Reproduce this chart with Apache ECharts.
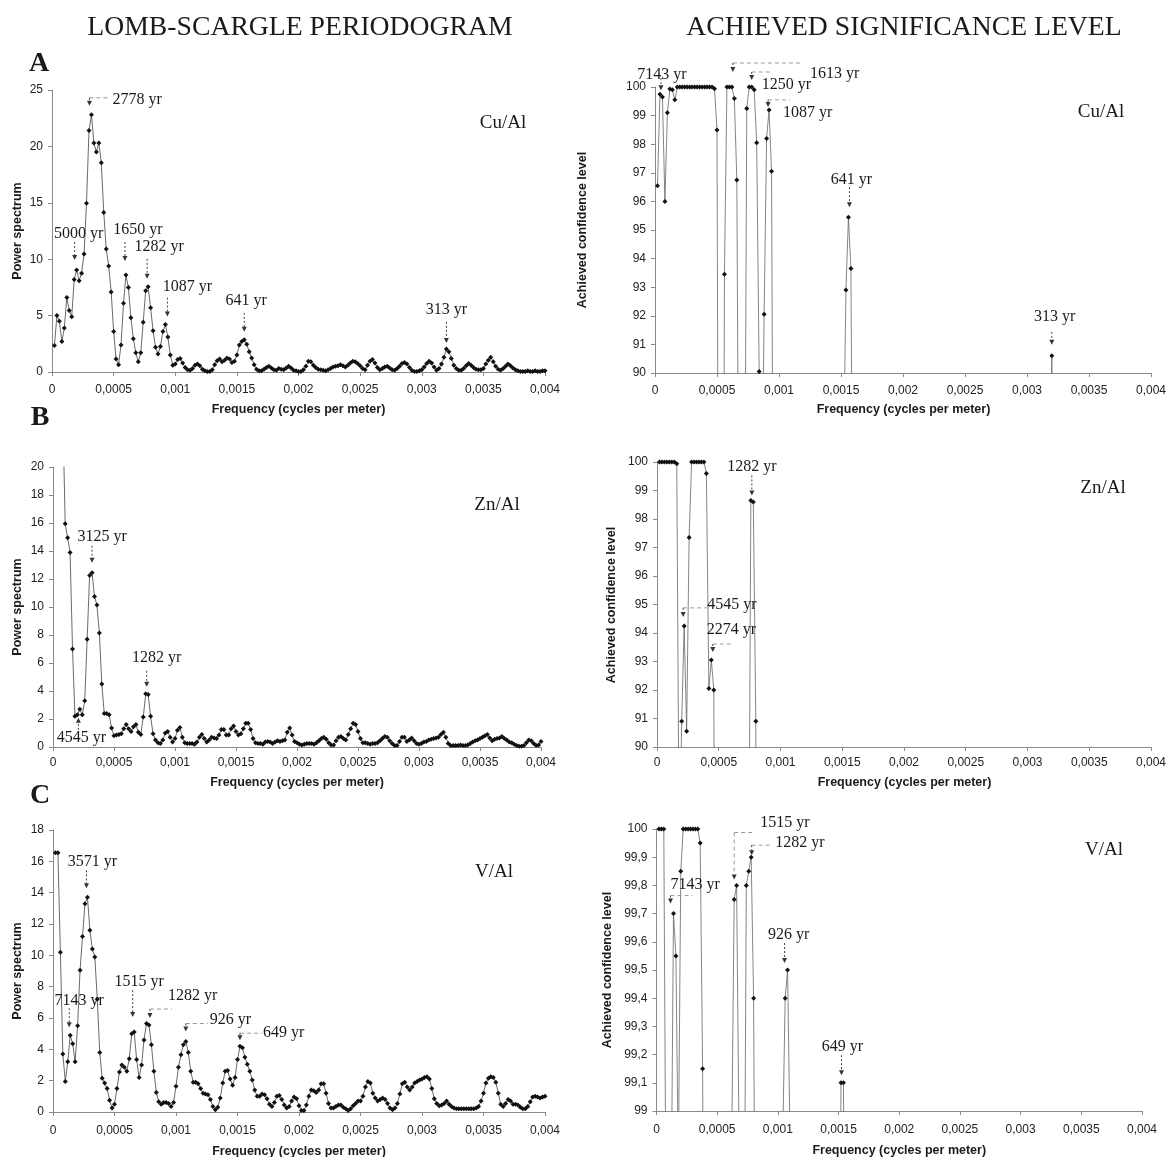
<!DOCTYPE html>
<html>
<head>
<meta charset="utf-8">
<script src="https://cdn.jsdelivr.net/npm/echarts@6/dist/echarts.min.js"></script>
<style>
  html, body { margin: 0; padding: 0; background: #ffffff; }
  #chart { width: 1169px; height: 1157px; }
</style>
</head>
<body>
<div id="chart"></div>
<script>
// Frequencies are sampled on a regular grid: f_k = k * FREQ_STEP, k = 1..200 (0 .. 0.004 cycles per meter)
const FREQ_STEP = 0.00002;

// ---- Cu/Al ----
const cuPower = [
  2.35, 5.0, 4.5, 2.7, 3.9, 6.6, 5.45, 4.9, 8.2, 9.05,
  8.1, 8.75, 10.45, 14.95, 21.4, 22.8, 20.3, 19.5, 20.3, 18.55,
  14.15, 10.9, 9.4, 7.1, 3.6, 1.15, 0.65, 2.4, 6.1, 8.6,
  7.5, 4.8, 2.95, 1.7, 0.9, 1.7, 4.4, 7.2, 7.55, 5.7,
  3.65, 2.2, 1.6, 2.25, 3.6, 4.2, 3.1, 1.5, 0.6, 0.7,
  1.1, 1.2, 0.8, 0.4, 0.2, 0.15, 0.3, 0.6, 0.7, 0.55,
  0.25, 0.1, 0.05, 0.05, 0.2, 0.65, 1.0, 1.15, 0.9, 1.05,
  1.25, 1.15, 0.85, 0.95, 1.5, 2.4, 2.7, 2.85, 2.45, 1.8,
  1.25, 0.65, 0.25, 0.1, 0.1, 0.25, 0.4, 0.5, 0.35, 0.2,
  0.15, 0.3, 0.25, 0.2, 0.35, 0.5, 0.35, 0.15, 0.1, 0.05,
  0.05, 0.2, 0.5, 0.95, 0.9, 0.6, 0.4, 0.25, 0.2, 0.15,
  0.1, 0.2, 0.3, 0.45, 0.5, 0.55, 0.65, 0.55, 0.45, 0.6,
  0.8, 0.95, 0.9, 0.75, 0.55, 0.3, 0.2, 0.6, 0.95, 1.1,
  0.8, 0.4, 0.2, 0.3, 0.45, 0.5, 0.35, 0.2, 0.15, 0.3,
  0.5, 0.75, 0.85, 0.7, 0.4, 0.15, 0.05, 0.05, 0.1, 0.2,
  0.45, 0.75, 0.95, 0.8, 0.45, 0.15, 0.3, 0.7, 1.3, 2.05,
  1.8, 1.2, 0.6, 0.3, 0.15, 0.15, 0.3, 0.55, 0.75, 0.6,
  0.4, 0.25, 0.2, 0.2, 0.3, 0.7, 1.05, 1.3, 0.9, 0.5,
  0.25, 0.15, 0.3, 0.5, 0.7, 0.55, 0.35, 0.2, 0.1, 0.05,
  0.05, 0.05, 0.1, 0.05, 0.05, 0.1, 0.05, 0.05, 0.1, 0.1
];
const cuConf = [
  96.55, 99.75, 99.65, 96.0, 99.1, 99.93, 99.9, 99.55, 100, 100,
  100, 100, 100, 100, 100, 100, 100, 100, 100, 100,
  100, 100, 100, 99.94, 98.5, 70, 62, 93.45, 100, 100,
  100, 99.6, 96.75, 80, 58, 80, 99.25, 100, 100, 99.9,
  98.05, 90.05, 84, 92.05, 98.2, 99.2, 97.05, 76, 45, 50,
  68, 72, 55, 35, 20, 15, 25, 45, 50, 42,
  22, 10, 5, 5, 18, 46, 65, 70, 60, 66,
  72, 70, 58, 62, 76, 87, 92.9, 95.45, 93.65, 80,
  70, 50, 22, 8, 8, 22, 32, 38, 28, 16,
  12, 24, 20, 15, 28, 38, 28, 12, 8, 5,
  4, 15, 36, 62, 60, 42, 30, 20, 16, 12,
  8, 15, 24, 35, 38, 40, 46, 40, 35, 44,
  56, 62, 60, 52, 40, 24, 15, 44, 62, 68,
  56, 30, 15, 24, 35, 38, 26, 15, 12, 24,
  38, 52, 58, 50, 30, 12, 4, 4, 8, 15,
  35, 52, 62, 56, 35, 12, 24, 50, 62, 90.6,
  72, 60, 42, 24, 12, 12, 24, 40, 52, 44,
  30, 20, 15, 15, 24, 50, 66, 72, 60, 38,
  20, 12, 24, 38, 50, 40, 26, 15, 8, 4,
  4, 4, 8, 4, 4, 8, 4, 4, 8, 8
];

// ---- Zn/Al ----
const znPower = [
  34, 31, 27, 24, 15.95, 14.95, 13.9, 7.0, 2.2, 2.3,
  2.7, 2.3, 3.3, 7.7, 12.25, 12.45, 10.75, 10.15, 8.15, 4.5,
  2.4, 2.4, 2.3, 1.35, 0.8, 0.85, 0.9, 0.95, 1.3, 1.6,
  1.3, 1.1, 1.45, 1.6, 1.05, 0.9, 2.15, 3.8, 3.75, 2.2,
  0.95, 0.5, 0.3, 0.25, 0.5, 1.0, 1.1, 0.7, 0.35, 0.6,
  1.2, 1.4, 0.7, 0.3, 0.25, 0.25, 0.25, 0.2, 0.35, 0.7,
  0.9, 0.6, 0.35, 0.5, 0.7, 0.65, 0.6, 0.85, 1.25, 1.25,
  0.85, 0.85, 1.3, 1.5, 1.1, 0.85, 0.95, 1.3, 1.7, 1.7,
  1.25, 0.6, 0.3, 0.25, 0.25, 0.2, 0.35, 0.4, 0.35, 0.25,
  0.35, 0.45, 0.4, 0.45, 0.5, 1.05, 1.35, 0.85, 0.4, 0.3,
  0.2, 0.15, 0.2, 0.25, 0.25, 0.25, 0.2, 0.3, 0.45, 0.6,
  0.7, 0.55, 0.3, 0.15, 0.15, 0.45, 0.7, 0.75, 0.6, 0.5,
  0.9, 1.3, 1.7, 1.6, 1.1, 0.6, 0.3, 0.3, 0.25, 0.2,
  0.25, 0.25, 0.3, 0.45, 0.6, 0.75, 0.7, 0.45, 0.25, 0.1,
  0.1, 0.4, 0.7, 0.7, 0.4, 0.5, 0.65, 0.45, 0.25, 0.2,
  0.25, 0.35, 0.4, 0.5, 0.55, 0.6, 0.65, 0.7, 0.9, 1.05,
  0.7, 0.25, 0.1, 0.1, 0.1, 0.1, 0.15, 0.1, 0.1, 0.15,
  0.25, 0.35, 0.45, 0.5, 0.6, 0.7, 0.8, 0.9, 0.65, 0.45,
  0.55, 0.6, 0.65, 0.75, 0.6, 0.5, 0.35, 0.3, 0.2, 0.1,
  0.05, 0.05, 0.1, 0.3, 0.5, 0.45, 0.25, 0.1, 0.15, 0.4
];
const znConf = [
  100, 100, 100, 100, 100, 100, 100, 99.94, 86, 90.9,
  94.25, 90.55, 97.35, 100, 100, 100, 100, 100, 100, 99.6,
  92.05, 93.05, 92.0, 70, 50, 52, 55, 58, 68, 74,
  68, 62, 72, 74, 58, 55, 82, 98.65, 98.6, 90.9,
  56, 32, 18, 15, 32, 58, 62, 40, 22, 38,
  66, 72, 40, 18, 15, 15, 15, 12, 22, 40,
  52, 38, 22, 32, 40, 38, 36, 50, 66, 66,
  50, 50, 68, 74, 62, 50, 55, 68, 78, 78,
  66, 36, 18, 15, 15, 12, 22, 25, 22, 15,
  22, 28, 25, 28, 32, 60, 68, 50, 25, 18,
  12, 10, 12, 15, 15, 15, 12, 18, 28, 36,
  42, 32, 18, 10, 10, 28, 42, 45, 36, 32,
  50, 66, 78, 76, 60, 36, 18, 18, 15, 12,
  15, 15, 18, 28, 36, 45, 42, 28, 15, 6,
  6, 25, 42, 42, 25, 32, 40, 28, 15, 12,
  15, 22, 25, 32, 34, 36, 40, 42, 52, 60,
  42, 15, 6, 6, 6, 6, 10, 6, 6, 10,
  15, 22, 28, 32, 36, 42, 48, 52, 40, 28,
  34, 36, 40, 45, 36, 32, 22, 18, 12, 6,
  3, 3, 6, 18, 32, 28, 15, 6, 10, 25
];

// ---- V/Al ----
const vPower = [
  16.55, 16.55, 10.2, 3.7, 1.95, 3.2, 4.9, 4.35, 3.2, 5.5,
  9.05, 11.2, 13.3, 13.7, 11.6, 10.4, 9.9, 7.2, 3.8, 2.15,
  1.85, 1.5, 0.75, 0.25, 0.5, 1.5, 2.55, 3.0, 2.85, 2.6,
  3.4, 5.0, 5.1, 3.35, 2.2, 3.0, 4.6, 5.65, 5.55, 4.3,
  2.6, 1.25, 0.65, 0.5, 0.6, 0.6, 0.55, 0.35, 0.6, 1.65,
  2.85, 3.65, 4.3, 4.5, 3.8, 2.6, 1.9, 1.9, 1.8, 1.5,
  1.2, 1.15, 1.1, 0.8, 0.35, 0.15, 0.3, 0.9, 1.85, 2.6,
  2.65, 2.1, 1.7, 2.2, 3.35, 4.2, 4.1, 3.5, 3.05, 2.6,
  2.05, 1.4, 1.0, 1.0, 1.15, 1.1, 0.85, 0.5, 0.35, 0.6,
  1.0, 1.05, 0.8, 0.45, 0.25, 0.35, 0.7, 0.95, 0.85, 0.4,
  0.1, 0.1, 0.45, 1.0, 1.4, 1.35, 1.25, 1.4, 1.8, 1.8,
  1.2, 0.55, 0.25, 0.25, 0.35, 0.45, 0.45, 0.3, 0.2, 0.1,
  0.2, 0.4, 0.55, 0.7, 0.7, 1.0, 1.6, 1.95, 1.85, 1.2,
  0.9, 0.7, 0.8, 0.9, 0.8, 0.55, 0.25, 0.15, 0.25, 0.55,
  1.15, 1.8, 1.9, 1.6, 1.4, 1.6, 1.85, 1.95, 2.05, 2.1,
  2.2, 2.25, 2.1, 1.5, 0.85, 0.55, 0.4, 0.45, 0.55, 0.7,
  0.5, 0.35, 0.25, 0.2, 0.2, 0.2, 0.2, 0.2, 0.2, 0.2,
  0.2, 0.25, 0.35, 0.7, 1.2, 1.85, 2.15, 2.25, 2.2, 1.9,
  1.2, 0.5, 0.35, 0.55, 0.8, 0.7, 0.5, 0.5, 0.45, 0.3,
  0.2, 0.2, 0.35, 0.65, 0.95, 1.0, 0.95, 0.9, 0.95, 1.0
];
const vConf = [
  100, 100, 100, 98.5, 96, 98.6, 99.7, 99.55, 98.8, 99.85,
  100, 100, 100, 100, 100, 100, 100, 99.95, 99.15, 97,
  96, 94, 85, 70, 80, 94, 97.5, 98.4, 98.2, 97.8,
  98.9, 99.75, 99.8, 98.9, 97.2, 98.2, 99.8, 99.85, 99.9, 99.4,
  97.8, 93, 85, 80, 83, 83, 82, 75, 83, 96,
  98.3, 98.9, 99.4, 99.5, 98.9, 97.8, 96.5, 96.5, 96.2, 95,
  93, 92, 91, 87, 72, 55, 70, 90, 96.3, 97.8,
  97.9, 96.8, 95.8, 97, 97.5, 99.1, 99.1, 98, 97.6, 97.2,
  96.3, 94.5, 91, 91, 92.5, 92, 89, 82, 75, 85,
  91, 91.5, 88, 80, 70, 75, 86, 90, 89, 78,
  55, 55, 80, 91, 94.5, 94.2, 93.6, 94.5, 96.2, 96.2,
  93, 82, 70, 70, 75, 80, 80, 72, 65, 55,
  65, 78, 82, 86, 86, 91, 95.5, 96.5, 96.2, 93,
  91, 86, 88, 91, 88, 82, 70, 62, 70, 82,
  93, 96.2, 96.5, 95.5, 94.5, 95.5, 96.2, 96.5, 96.8, 97,
  97.2, 97.3, 97, 95, 91, 82, 78, 80, 82, 86,
  82, 78, 70, 65, 65, 65, 65, 65, 65, 65,
  65, 70, 78, 86, 93, 96.3, 97.1, 97.3, 97.2, 96.3,
  93, 82, 78, 82, 88, 86, 82, 82, 80, 75,
  65, 65, 78, 86, 91, 91.5, 91, 90.5, 91, 91.5
];

// Peak annotations: [frequency index k, period label]
const cuPowerNotes = [[16, '2778 yr'], [10, '5000 yr'], [30, '1650 yr'], [39, '1282 yr'], [46, '1087 yr'], [78, '641 yr'], [160, '313 yr']];
const cuConfNotes  = [[2, '7143 yr'], [31, '1613 yr'], [39, '1250 yr'], [46, '1087 yr'], [78, '641 yr'], [160, '313 yr']];
const znPowerNotes = [[16, '3125 yr'], [38, '1282 yr'], [10, '4545 yr']];
const znConfNotes  = [[38, '1282 yr'], [11, '4545 yr'], [22, '2274 yr']];
const vPowerNotes  = [[14, '3571 yr'], [7, '7143 yr'], [33, '1515 yr'], [39, '1282 yr'], [54, '926 yr'], [76, '649 yr']];
const vConfNotes   = [[32, '1515 yr'], [39, '1282 yr'], [7, '7143 yr'], [54, '926 yr'], [76, '649 yr']];

// Column headings, row letters, ratio names, axis titles
const columnTitles = ['LOMB-SCARGLE PERIODOGRAM', 'ACHIEVED SIGNIFICANCE LEVEL'];
const rowLetters = ['A', 'B', 'C'];
const ratioNames = ['Cu/Al', 'Zn/Al', 'V/Al'];
const xTitle = 'Frequency (cycles per meter)';
const yTitles = ['Power spectrum', 'Achieved confidence level'];

// ---------- layout / styling ----------
const SERIF = '"Liberation Serif", "Times New Roman", serif';
const SANS = '"Liberation Sans", Arial, sans-serif';

// Offsets (px) of arrow, leader and label relative to the annotated point
const cuPowerLayout = [
  {ax: -2, a0: -17, a1: -9, lead: 21, tx: 21, ty: -15, align: 'left'},
  {ax: -2, a0: -28, a1: -10, tx: 2, ty: -36},
  {ax: -1, a0: -33, a1: -14, tx: 12, ty: -45},
  {ax: -1, a0: -28, a1: -8, tx: 11, ty: -40},
  {ax: 2, a0: -27, a1: -8, tx: 22, ty: -38},
  {ax: 0, a0: -27, a1: -8, tx: 2, ty: -39},
  {ax: 0, a0: -27, a1: -6, tx: 0, ty: -39}
];
const cuConfLayout = [
  {ax: 1, a0: -16, a1: -4, tx: 2, ty: -19},
  {ax: 1, a0: -24, a1: -15, lead: 67, tx: 78, ty: -13, align: 'left'},
  {ax: 0, a0: -15, a1: -7, lead: 21, tx: 10, ty: -2, align: 'left'},
  {ax: -1, a0: -10, a1: -3, lead: 22, tx: 14, ty: 3, align: 'left'},
  {ax: 1, a0: -30, a1: -10, tx: 3, ty: -37},
  {ax: 0, a0: -24, a1: -11, tx: 3, ty: -39}
];
const znPowerLayout = [
  {ax: 0, a0: -27, a1: -10, tx: 10, ty: -36},
  {ax: 1, a0: -23, a1: -7, tx: 11, ty: -36},
  {ax: 1, a0: 15, a1: 3, tx: 4, ty: 23}
];
const znConfLayout = [
  {ax: 1, a0: -25, a1: -5, tx: 1, ty: -34},
  {ax: -1, a0: -18, a1: -9, lead: 24, tx: 23, ty: -21, align: 'left'},
  {ax: 1.5, a0: -16, a1: -8, lead: 20, tx: -4.5, ty: -30, align: 'left'}
];
const vPowerLayout = [
  {ax: -1, a0: -27, a1: -9, tx: 5, ty: -36},
  {ax: -1, a0: -27, a1: -8, tx: 9, ty: -34},
  {ax: -1.5, a0: -42, a1: -15, tx: 5, ty: -50},
  {ax: 1, a0: -16, a1: -7, lead: 22, tx: 19, ty: -29, align: 'left'},
  {ax: 0, a0: -18, a1: -10, lead: 22, tx: 24, ty: -21.5, align: 'left'},
  {ax: 0, a0: -13, a1: -6, lead: 22, tx: 23, ty: -13, align: 'left'}
];
const vConfLayout = [
  {ax: 0, a0: -67, a1: -20, lead: 21, tx: 26, ty: -77, align: 'left', dashed: true},
  {ax: 0.5, a0: -12, a1: -2, lead: 21, tx: 24, ty: -14, align: 'left'},
  {ax: -3, a0: -18, a1: -10, lead: 22, tx: -3, ty: -29, align: 'left'},
  {ax: -3, a0: -27, a1: -7, tx: 1, ty: -35},
  {ax: 0.5, a0: -27.6, a1: -7.6, tx: 1.5, ty: -36}
];

const panels = [
  {vals: cuPower, notes: cuPowerNotes, layout: cuPowerLayout, grid: {left: 52, top: 90, width: 493, height: 282},
   y: [0, 25, 5], conf: false, xMargin: 12, ratio: [503, 123], yName: [18, 231], xName: 410},
  {vals: cuConf, notes: cuConfNotes, layout: cuConfLayout, grid: {left: 655, top: 87, width: 497, height: 286},
   y: [90, 100, 1], conf: true, xMargin: 12, ratio: [1101, 112], yName: [583, 230], xName: 410},
  {vals: znPower, notes: znPowerNotes, layout: znPowerLayout, grid: {left: 53, top: 467, width: 488, height: 280},
   y: [0, 20, 2], conf: false, xMargin: 10, ratio: [497, 505], yName: [18, 607], xName: 783},
  {vals: znConf, notes: znConfNotes, layout: znConfLayout, grid: {left: 657, top: 462, width: 495, height: 285},
   y: [90, 100, 1], conf: true, xMargin: 10, ratio: [1103, 488], yName: [612, 605], xName: 783},
  {vals: vPower, notes: vPowerNotes, layout: vPowerLayout, grid: {left: 53, top: 830, width: 492, height: 282},
   y: [0, 18, 2], conf: false, xMargin: 13, ratio: [494, 872], yName: [18, 971], xName: 1152},
  {vals: vConf, notes: vConfNotes, layout: vConfLayout, grid: {left: 656.5, top: 829, width: 485.5, height: 282},
   y: [99, 100, 0.1], conf: true, xMargin: 13, ratio: [1104, 850], yName: [608, 970], xName: 1151}
];

function fmtDecimal(v) {
  const r = Math.round(v * 1e6) / 1e6;
  return String(r).replace('.', ',');
}

const AXIS_COLOR = '#8a8a8a';
const grids = [], xAxes = [], yAxes = [], series = [];
panels.forEach((p, g) => {
  grids.push(Object.assign({containLabel: false}, p.grid));
  xAxes.push({
    type: 'value', gridIndex: g, min: 0, max: 0.004, interval: 0.0005,
    axisLine: {show: true, onZero: false, lineStyle: {color: AXIS_COLOR, width: 1}},
    axisTick: {show: true, length: 4, lineStyle: {color: AXIS_COLOR}},
    splitLine: {show: false},
    axisLabel: {color: '#222', fontFamily: SANS, fontSize: 12, margin: p.xMargin,
      formatter: v => fmtDecimal(v)}
  });
  yAxes.push({
    type: 'value', gridIndex: g, min: p.y[0], max: p.y[1], interval: p.y[2],
    axisLine: {show: true, onZero: false, lineStyle: {color: AXIS_COLOR, width: 1}},
    axisTick: {show: true, length: 4, lineStyle: {color: AXIS_COLOR}},
    splitLine: {show: false},
    axisLabel: {color: '#222', fontFamily: SANS, fontSize: 12, margin: 9,
      formatter: v => fmtDecimal(Math.round(v * 10) / 10)}
  });
  series.push({
    type: 'line', xAxisIndex: g, yAxisIndex: g,
    data: p.vals.map((v, k) => [FREQ_STEP * (k + 1), v]),
    symbol: 'diamond', symbolSize: 5, showSymbol: true, showAllSymbol: true,
    clip: true,
    itemStyle: {color: '#111'},
    lineStyle: {color: p.conf ? '#666' : '#444', width: 0.8},
    silent: true
  });
});

const chart = echarts.init(document.getElementById('chart'), null, {renderer: 'canvas'});
chart.setOption({
  animation: false,
  backgroundColor: '#ffffff',
  grid: grids, xAxis: xAxes, yAxis: yAxes, series: series
});

// ---------- text and peak annotations ----------
const gfx = [];
function text(x, y, str, font, opts) {
  gfx.push(Object.assign({
    type: 'text', x: x, y: y, z: 100,
    style: {text: str, font: font, fill: '#1a1a1a', align: 'center', verticalAlign: 'middle'}
  }, opts || {}));
}
function line(x1, y1, x2, y2, stroke, dash, w) {
  gfx.push({type: 'line', z: 100, shape: {x1, y1, x2, y2},
    style: {stroke: stroke, lineWidth: w || 1, lineDash: dash || null}});
}
function head(x, y, down) {
  const s = down ? -1 : 1;
  gfx.push({type: 'polygon', z: 100,
    shape: {points: [[x - 2.5, y + s * 5], [x + 2.5, y + s * 5], [x, y]]},
    style: {fill: '#333'}});
}

text(300, 28, columnTitles[0], '27.7px ' + SERIF);
text(904, 28, columnTitles[1], '27.7px ' + SERIF);
text(39, 64, rowLetters[0], 'bold 28px ' + SERIF);
text(40, 418, rowLetters[1], 'bold 28px ' + SERIF);
text(40, 796, rowLetters[2], 'bold 28px ' + SERIF);

panels.forEach((p, g) => {
  const ri = Math.floor(g / 2);
  text(p.ratio[0], p.ratio[1], ratioNames[ri], '19px ' + SERIF);
  text(p.yName[0], p.yName[1], yTitles[p.conf ? 1 : 0], 'bold 12.5px ' + SANS, {rotation: Math.PI / 2});
  text(p.grid.left + p.grid.width / 2, p.xName, xTitle, 'bold 12.5px ' + SANS);

  p.notes.forEach((n, j) => {
    const k = n[0];
    const L = p.layout[j];
    const pt = chart.convertToPixel({gridIndex: g}, [FREQ_STEP * k, p.vals[k - 1]]);
    const x = pt[0], y = pt[1];
    const ax = x + L.ax;
    const down = L.a1 > L.a0;
    if (L.lead) line(ax, y + L.a0, ax + L.lead, y + L.a0, '#9a9a9a', [4, 3]);
    const tipY = y + L.a1;
    const shaftEnd = down ? tipY - 5 : tipY + 5;
    line(ax, y + L.a0, ax, shaftEnd, L.dashed ? '#9a9a9a' : '#444', L.dashed ? [4, 3] : [2, 2]);
    head(ax, tipY, down);
    text(x + L.tx, y + L.ty, n[1], '16px ' + SERIF, {style: {
      text: n[1], font: '16px ' + SERIF, fill: '#1a1a1a', align: L.align || 'center', verticalAlign: 'middle'}});
  });
});

chart.setOption({graphic: {elements: gfx}});
</script>
</body>
</html>
